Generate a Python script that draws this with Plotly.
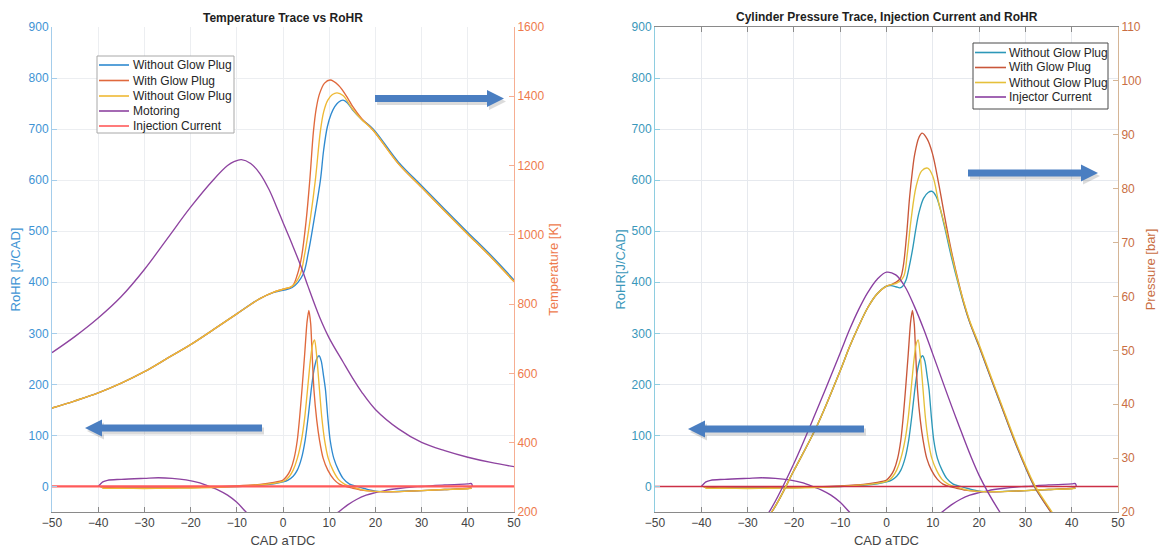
import plotly.graph_objects as go

W, H = 1166, 550

# ---------------- data : shared RoHR traces [J/CAD] ----------------
rohr_wo1_cad = [-39.5, -39, -35, -30, -25, -20, -15, -10, -5, -2, 0, 1.1, 2.2, 3.1, 4.0, 4.8, 5.5, 6.1, 6.7, 7.3,
                7.8, 8.3, 8.8, 9.2, 9.7, 10.2, 11, 12.0, 13, 14.4, 16, 18, 20, 24, 30, 35, 40, 40.8]
rohr_wo1 = [0, -2, -2.5, -3, -2.5, -2, -1, 0, 2, 5, 9, 12.6, 20, 32, 55, 91, 140, 189, 228, 250,
            256, 245, 215, 189, 135, 91, 55, 32, 16, 4.7, 0, -5, -9, -10, -8, -6, -4, -3]

rohr_wg_cad = [-39.5, -39, -35, -30, -25, -20, -15, -10, -5, -2, 0, 0.8, 1.6, 2.4, 3.1, 3.6, 4.1, 4.7, 5.2, 5.6,
               6.0, 6.3, 6.7, 7.3, 7.9, 8.7, 9.7, 11, 12.2, 13.5, 15, 17, 19, 22, 25, 30, 35, 40, 40.8]
rohr_wg = [0, -2, -2.5, -3, -2.5, -2, -1, 1, 4, 8, 12.6, 20, 32, 55, 91, 135, 189, 260, 322, 345,
           318, 260, 189, 130, 91, 55, 32, 14, 4.7, 0, -3, -7, -9, -10.5, -10, -8, -6, -4, -3]

rohr_wo2_cad = [-39.5, -39, -35, -30, -25, -20, -15, -10, -5, -2, 0, 0.6, 1.4, 2.2, 3.1, 4.0, 4.7, 5.3, 5.9, 6.4,
                6.85, 7.3, 7.9, 8.4, 9.0, 9.8, 10.8, 12, 13.3, 15, 17, 19, 22, 25, 30, 35, 40, 40.8]
rohr_wo2 = [0, -3, -3.5, -4, -3.5, -3, -2, 0, 3, 6, 10, 12.6, 20, 32, 55, 91, 135, 189, 245, 278,
            287, 255, 189, 135, 91, 55, 32, 14, 4.7, -1, -6, -9, -10, -10, -8, -6, -4.5, -3.5]

# injector current trace (plotted on RoHR axis, dips below the visible range)
current_cad = [-40, -39.5, -39, -38, -35, -30, -27, -24, -21, -18, -16, -14, -12, -10, -8, -6, -3, 0, 3, 6,
               9, 11, 12, 14, 16, 18, 20, 22, 25, 28, 30, 35, 40, 40.8, 41]
current = [0, 5, 9, 12, 14, 16, 17, 16, 13, 7, 0, -7, -17, -31, -50, -68, -88, -98, -95, -85,
           -68, -55, -50, -36, -25, -17, -12, -8, -4, -1, 0, 3, 5, 5.5, 0]

zero_cad = [-50, 50]
zero_val = [0, 0]

# ---------------- data : left chart temperature [K] ----------------
temp_wo1_cad = [-50, -45, -40, -35, -30, -25, -20, -15, -10, -5, -2, 0, 2, 4.3, 5.5, 6.8, 8.1, 8.8, 9.6, 10.4,
                11.2, 12.0, 13.0, 14, 15, 17, 19.5, 25, 30, 35, 40, 45, 50]
temp_wo1 = [500, 521, 544, 572, 605, 644, 683, 727, 772, 816, 834, 840, 848, 885, 950, 1050, 1158, 1245, 1312, 1348,
            1370, 1383, 1389, 1380, 1362, 1334, 1306, 1210, 1142, 1074, 1007, 941, 870]

temp_wg_cad = [-50, -45, -40, -35, -30, -25, -20, -15, -10, -5, -2, 0, 2, 3.1, 4.0, 5.0, 5.8, 6.6, 7.2, 7.9,
               9.0, 10.2, 12, 14, 15, 17, 19.5, 25, 30, 35, 40, 45, 50]
temp_wg = [500, 521, 544, 572, 605, 644, 683, 727, 772, 816, 835, 843, 852, 885, 935, 1040, 1158, 1300, 1365, 1407,
           1438, 1447, 1432, 1395, 1372, 1336, 1302, 1205, 1137, 1069, 1002, 936, 865]

temp_wo2_cad = [-50, -45, -40, -35, -30, -25, -20, -15, -10, -5, -2, 0, 2, 3.7, 4.7, 6.0, 7.0, 8.1, 8.8, 9.7,
                10.7, 11.7, 13, 15, 17, 19.5, 25, 30, 35, 40, 45, 50]
temp_wo2 = [500, 521, 544, 572, 605, 644, 683, 727, 772, 816, 835, 843, 852, 885, 945, 1055, 1158, 1300, 1355, 1389,
            1405, 1410, 1402, 1364, 1333, 1302, 1205, 1137, 1069, 1002, 936, 865]

motoring_cad = [-50, -45, -40, -35, -30, -25, -20, -15, -12, -10.5, -9, -7, -5, -3, -1, 0, 2, 4, 5.4, 8,
                10, 13, 15, 17, 20, 25, 30, 35, 40, 45, 50]
motoring_temp = [660, 707, 760, 822, 900, 990, 1080, 1160, 1200, 1212, 1217, 1206, 1177, 1130, 1068, 1036, 972, 905, 852, 760,
                 702, 633, 588, 547, 496, 440, 401, 377, 358, 343, 331]

# ---------------- data : right chart cylinder pressure [bar] ----------------
pres_wo1_cad = [-30, -24.8, -20, -15, -10, -8, -6, -4, -2, 0, 1, 2, 2.9, 3.5, 4.2, 4.9, 5.6, 6.3, 7.0, 8.0,
                9.0, 9.85, 10.7, 11.5, 12.3, 13, 14, 15.6, 16.8, 18, 20, 22.5, 25, 27.5, 30, 32, 35.5, 38, 41]
pres_wo1 = [15, 20, 27.7, 36, 46.2, 50.6, 54.5, 58, 60.5, 61.9, 62.0, 61.8, 61.6, 61.9, 63, 65.5, 68.6, 72.3, 75.5, 78.2,
            79.3, 79.5, 78.6, 76.6, 73.8, 71.2, 67.4, 62, 58.3, 55.1, 50.7, 44.9, 39.2, 33.5, 28.3, 24.6, 20, 17, 14]

pres_wg_cad = [-30, -24.8, -20, -15, -10, -8, -6, -4, -2, 0, 1, 2, 3, 3.6, 4.3, 5.0, 5.6, 6.1, 7.0, 7.7,
               8.8, 9.9, 11.3, 12.7, 14, 15.6, 16.8, 18, 20, 22.5, 25, 27.5, 30, 32, 35.5, 38, 41]
pres_wg = [15, 20, 27.7, 36, 46.2, 50.6, 54.5, 58, 60.5, 61.9, 62.2, 62.6, 63.4, 65.5, 71, 78.5, 83.3, 86.4, 89.5, 90.3,
           89.2, 86.6, 80.8, 74.2, 68.5, 62.5, 58.5, 55.2, 50.8, 45, 39.3, 33.6, 28.4, 24.7, 20, 17, 14]

pres_wo2_cad = [-30, -24.8, -20, -15, -10, -8, -6, -4, -2, 0, 1, 2, 3, 3.8, 4.5, 5.3, 6.4, 7.6, 8.9, 10,
                11.3, 12.7, 14, 15.6, 16.8, 18, 20, 22.5, 25, 27.5, 30, 32, 35.5, 38, 41]
pres_wo2 = [15, 20, 27.7, 36, 46.2, 50.6, 54.5, 58, 60.5, 61.9, 62.2, 62.4, 62.9, 63.9, 68, 74.2, 80.4, 83.3, 83.8, 82.3,
            77.3, 72.8, 68, 62.3, 58.7, 55.4, 51.1, 45.3, 39.6, 33.9, 28.7, 25, 20.3, 17.2, 14.2]

injector_cad = [-30, -25, -20, -15, -10, -8, -6, -4, -2, 0, 2, 4, 6, 8, 10, 15, 20, 25, 30]
injector_pres = [14.5, 20.5, 29, 39, 49.5, 53.8, 57.6, 60.8, 63.2, 64.5, 64.0, 61.8, 58.2, 54.0, 49.3, 37.5, 26.8, 19.3, 13.5]

# tick / legend labels
left_title = 'Temperature Trace vs RoHR'
right_title = 'Cylinder Pressure Trace, Injection Current and RoHR'
left_legend = ['Without Glow Plug', 'With Glow Plug', 'Without Glow Plug', 'Motoring', 'Injection Current']
right_legend = ['Without Glow Plug', 'With Glow Plug', 'Without Glow Plug', 'Injector Current']

# ---------------- styles ----------------
FONT = 'Liberation Sans, Arial, Helvetica, sans-serif'
L_BLUE, L_ORANGE, L_YELLOW, L_PURPLE, L_RED = '#2F8AD0', '#E0693D', '#EFB935', '#8E44A0', '#FF5A5A'
R_TEAL, R_BROWN, R_YELLOW, R_PURPLE, R_RED = '#2C98B8', '#C9573A', '#E5C03A', '#8A3FA0', '#CC2F45'


def px(x):
    return x / W


def py(y):
    return 1 - y / H


fig = go.Figure()


def add_line(x, y, color, xa, ya, width=1.35, name=None, smooth=0.6):
    fig.add_trace(go.Scatter(
        x=x, y=y, mode='lines', name=name, showlegend=False, hoverinfo='skip',
        line=dict(color=color, width=width, shape='spline' if smooth else 'linear', smoothing=smooth or None),
        xaxis=xa, yaxis=ya))


# left chart
add_line(current_cad, current, L_PURPLE, 'x', 'y', smooth=1.0)
add_line(rohr_wo1_cad, rohr_wo1, L_BLUE, 'x', 'y')
add_line(rohr_wg_cad, rohr_wg, L_ORANGE, 'x', 'y')
add_line(rohr_wo2_cad, rohr_wo2, L_YELLOW, 'x', 'y')
add_line(zero_cad, zero_val, L_RED, 'x', 'y', width=2.2, name=left_legend[4], smooth=0)
add_line(temp_wo1_cad, temp_wo1, L_BLUE, 'x', 'y2', name=left_legend[0], smooth=1.0)
add_line(temp_wg_cad, temp_wg, L_ORANGE, 'x', 'y2', name=left_legend[1], smooth=1.0)
add_line(temp_wo2_cad, temp_wo2, L_YELLOW, 'x', 'y2', name=left_legend[2], smooth=1.0)
add_line(motoring_cad, motoring_temp, L_PURPLE, 'x', 'y2', name=left_legend[3], smooth=1.0)

# right chart
add_line(current_cad, current, R_PURPLE, 'x2', 'y3', smooth=1.0)
add_line(rohr_wo1_cad, rohr_wo1, R_TEAL, 'x2', 'y3')
add_line(rohr_wg_cad, rohr_wg, R_BROWN, 'x2', 'y3')
add_line(rohr_wo2_cad, rohr_wo2, R_YELLOW, 'x2', 'y3')
add_line(zero_cad, zero_val, R_RED, 'x2', 'y3', width=1.5, smooth=0)
add_line(pres_wo1_cad, pres_wo1, R_TEAL, 'x2', 'y4', name=right_legend[0], smooth=1.0)
add_line(pres_wg_cad, pres_wg, R_BROWN, 'x2', 'y4', name=right_legend[1], smooth=1.0)
add_line(pres_wo2_cad, pres_wo2, R_YELLOW, 'x2', 'y4', name=right_legend[2], smooth=1.0)
add_line(injector_cad, injector_pres, R_PURPLE, 'x2', 'y4', name=right_legend[3], smooth=1.0)

# ---------------- axes ----------------
domL = [px(52), px(514)]
domR = [px(655), px(1118)]
domY = [py(512), py(27)]
GRID = '#ECEEF1'


def xax(domain, anchor, linecolor, gridcolor, mirror=False):
    return dict(domain=domain, anchor=anchor, range=[-50, 50], dtick=10, tick0=0, automargin=False,
                showgrid=True, gridcolor=gridcolor, gridwidth=1, zeroline=False,
                showline=True, linecolor=linecolor, linewidth=1, mirror=mirror,
                ticks='inside', ticklen=5, tickcolor=linecolor,
                tickfont=dict(family=FONT, size=12, color='#444444'),
                title=dict(text='CAD aTDC', font=dict(family=FONT, size=13, color='#444444'), standoff=6))


def yax(rng, dtick, linecolor, fontcolor, title, standoff, **kw):
    d = dict(range=rng, dtick=dtick, zeroline=False, showline=True, linecolor=linecolor, linewidth=1,
             automargin=False, ticks='inside', ticklen=5, tickcolor=linecolor,
             tickfont=dict(family=FONT, size=12, color=fontcolor),
             title=dict(text=title, font=dict(family=FONT, size=13, color=fontcolor), standoff=standoff))
    d.update(kw)
    return d


fig.update_layout(
    width=W, height=H, margin=dict(l=0, r=0, t=0, b=0, autoexpand=False),
    paper_bgcolor='white', plot_bgcolor='white', showlegend=False,
    font=dict(family=FONT),
    xaxis=xax(domL, 'y', '#8A8A8A', GRID),
    xaxis2=xax(domR, 'y3', '#8A8A8A', '#E6E9EE', mirror='ticks'),
    yaxis=yax([-50, 900], 100, '#A4CDEB', '#3E93D4', 'RoHR [J/CAD]', 5,
              domain=domY, anchor='x', showgrid=True, gridcolor=GRID, tick0=0),
    yaxis2=yax([200, 1600], 200, '#F6AE92', '#EE7A4C', 'Temperature [K]', 5,
               overlaying='y', side='right', anchor='x', showgrid=False),
    yaxis3=yax([-50, 900], 100, '#8ECDE0', '#3A97BA', 'RoHR[J/CAD]', 3,
               domain=domY, anchor='x2', showgrid=True, gridcolor='#E6E9EE', tick0=0),
    yaxis4=yax([20, 110], 10, '#D5B596', '#C96E43', 'Pressure [bar]', 5,
               overlaying='y3', side='right', anchor='x2', showgrid=False),
)

# ---------------- titles ----------------
annotations = [
    dict(text='<b>' + left_title + '</b>', x=px(283), y=py(18), xref='paper', yref='paper',
         xanchor='center', yanchor='middle', showarrow=False,
         font=dict(family=FONT, size=12, color='#1E1E1E')),
    dict(text='<b>' + right_title + '</b>', x=px(886.5), y=py(16.5), xref='paper', yref='paper',
         xanchor='center', yanchor='middle', showarrow=False,
         font=dict(family=FONT, size=12, color='#1E1E1E')),
]
shapes = []


# ---------------- legends (drawn as boxes with line samples) ----------------
def legend(box, rows, line_x, text_x, labels, colors, border):
    x0, y0, x1, y1 = box
    shapes.append(dict(type='rect', xref='paper', yref='paper', x0=px(x0), x1=px(x1), y0=py(y1), y1=py(y0),
                       line=dict(color=border, width=1), fillcolor='white', layer='above'))
    for yy, lab, col in zip(rows, labels, colors):
        shapes.append(dict(type='line', xref='paper', yref='paper', x0=px(line_x[0]), x1=px(line_x[1]),
                           y0=py(yy), y1=py(yy), line=dict(color=col, width=1.6)))
        annotations.append(dict(text=lab, x=px(text_x), y=py(yy), xref='paper', yref='paper', xanchor='left',
                                yanchor='middle', showarrow=False,
                                font=dict(family=FONT, size=12, color='#262626')))


legend((97, 56, 234, 133), [65, 80.5, 96, 111, 126], (99, 129), 131, left_legend,
       [L_BLUE, L_ORANGE, L_YELLOW, L_PURPLE, L_RED], '#A8A8A8')
legend((973, 43, 1108, 109), [52.5, 67.5, 82.5, 97], (975, 1006), 1007, right_legend,
       [R_TEAL, R_BROWN, R_YELLOW, R_PURPLE], '#4A4A4A')


# ---------------- block arrows ----------------
def arrow(xs, xt, yc, color='#4A7EC1'):
    d = 1 if xt > xs else -1
    hb = xt - d * 17
    pts = [(xs, yc - 3.5), (hb, yc - 3.5), (hb, yc - 8.5), (xt, yc), (hb, yc + 8.5), (hb, yc + 3.5), (xs, yc + 3.5)]
    for off, col in (((2, 3), 'rgba(90,90,90,0.22)'), ((0, 0), color)):
        path = 'M ' + ' L '.join('%.5f,%.5f' % (px(a + off[0]), py(b + off[1])) for a, b in pts) + ' Z'
        shapes.append(dict(type='path', xref='paper', yref='paper', path=path, fillcolor=col,
                           line=dict(width=0), layer='above'))


arrow(375, 504, 98.5)
arrow(262, 85, 428)
arrow(968, 1098, 173)
arrow(864, 688, 429)

fig.update_layout(annotations=annotations, shapes=shapes)
fig.write_html('out.html')
